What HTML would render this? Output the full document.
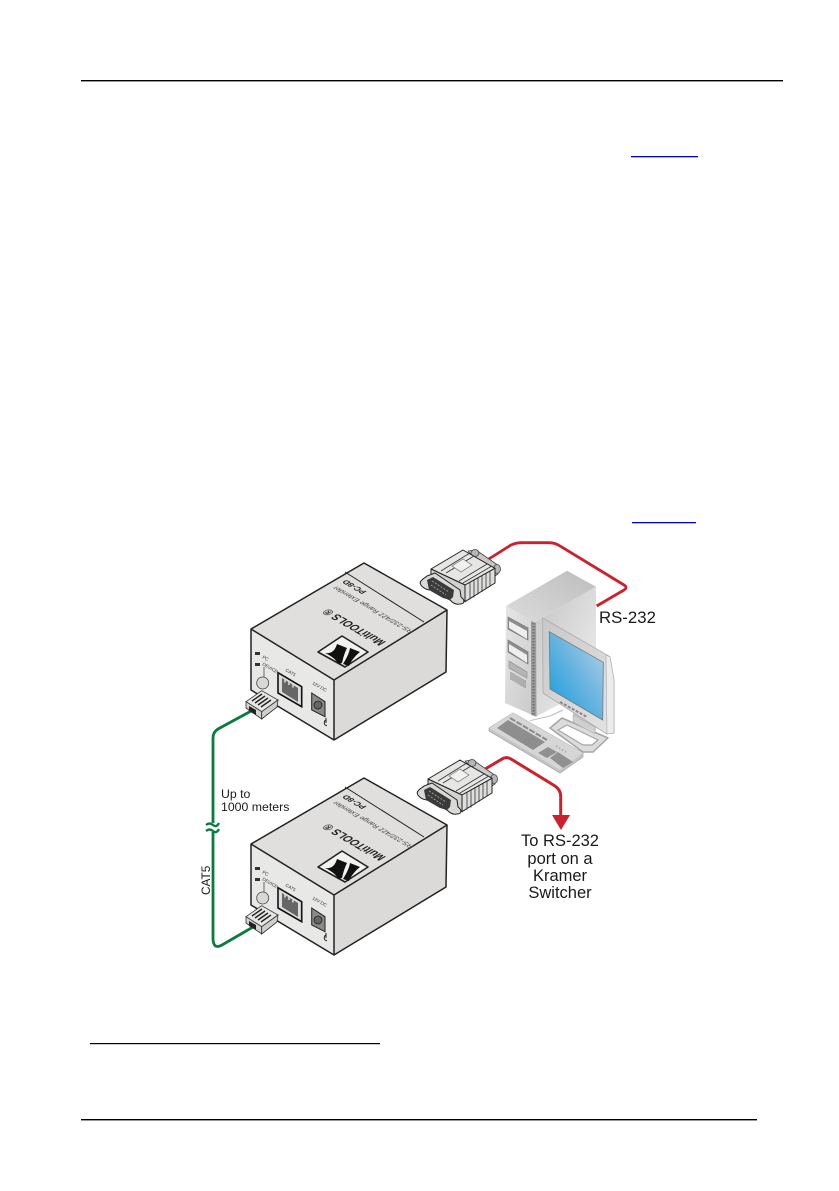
<!DOCTYPE html>
<html><head><meta charset="utf-8"><style>
html,body{margin:0;padding:0;background:#fff;width:839px;height:1191px;overflow:hidden}
svg{position:absolute;left:0;top:0}
text{font-family:"Liberation Sans",sans-serif;fill:#1a1a1a}
.d{filter:blur(.3px)}
</style></head><body>
<svg width="839" height="1191" viewBox="0 0 839 1191">
<defs>
<linearGradient id="scr" x1="0" y1="1" x2="1" y2="0"><stop offset="0" stop-color="#0d9bdc"/><stop offset=".55" stop-color="#6db5e0"/><stop offset="1" stop-color="#bdd5e8"/></linearGradient>
<linearGradient id="tw" x1="0" y1="0" x2="1" y2="1"><stop offset="0" stop-color="#c4c4c4"/><stop offset="1" stop-color="#f2f2f2"/></linearGradient>
<linearGradient id="tf" x1="0" y1="0" x2="1" y2="1"><stop offset="0" stop-color="#e6e6e6"/><stop offset="1" stop-color="#c8c8c8"/></linearGradient>
<linearGradient id="tt" x1="0" y1="1" x2="1" y2="0"><stop offset="0" stop-color="#dcdcdc"/><stop offset="1" stop-color="#bdbdbd"/></linearGradient>
<linearGradient id="bz" x1="0" y1="0" x2="1" y2="1"><stop offset="0" stop-color="#c8c8c8"/><stop offset="1" stop-color="#e4e4e4"/></linearGradient>
<g id="box">
<polygon points="251,629 364,563 447,610 334,680" fill="#e0dfdd"/>
<polygon points="251,629 334,680 334,740 251,690" fill="#e8e8e6"/>
<polygon points="334,680 447,610 446,672 334,740" fill="#dbdad8"/>
<path d="M251,629 L364,563 L447,610 L446,672 L334,740 L251,690 Z M251,629 L334,680 L447,610 M334,680 L334,740" fill="none" stroke="#222" stroke-width="1.5" stroke-linejoin="round"/>
<line x1="345" y1="572" x2="424" y2="622" stroke="#222" stroke-width="1"/>
<polygon points="318,652 342,636 368,652 345,667" fill="#f2f2f0" stroke="#222" stroke-width="1.6" stroke-linejoin="round"/>
<path d="M325,653 C331,654 335,651 337,644 L347,648 C344,654 343,659 342,663 L338,664 C336,659 331,656 325,653Z M350,648 L360,652 C355,656 351,661 349,666 L343,664 C346,659 349,654 350,648Z" fill="#111"/>
<line x1="264" y1="667" x2="264" y2="677" stroke="#333" stroke-width=".7"/>
<circle cx="262.7" cy="683" r="6" fill="#d8d8d6" stroke="#444" stroke-width=".8"/>
<path d="M255,652 h5 v3 h-5Z M255,663 h5 v3 h-5Z" fill="#333"/>
<polygon points="278,672.7 301.7,686.7 301.7,706.7 278,693" fill="#ddd" stroke="#111" stroke-width="1.6"/>
<polygon points="282,678 298,688 298,702 282,692" fill="#666"/>
<path d="M285,678.5v4M289,681v4M293,683.5v4" stroke="#ddd" stroke-width="1.5"/>
<polygon points="311.7,693 325,701.7 325,716.7 311.7,710" fill="#8a8a88" stroke="#222" stroke-width="1"/>
<circle cx="318" cy="705" r="4" fill="#666" stroke="#222" stroke-width=".8"/>
<path d="M326,720 a2,2.5 0 1 0 1,5.5 M326,723v-5" fill="none" stroke="#222" stroke-width="1"/>
</g>
<g id="plug">
<polygon points="246,701.7 261.7,690.7 278,700 261.7,711.7" fill="#e6e6e4" stroke="#333" stroke-width=".8"/>
<polygon points="246,701.7 261.7,711.7 261.7,719 246,708" fill="#d2d2d0" stroke="#333" stroke-width=".8"/>
<polygon points="261.7,711.7 278,700 277,707 261.7,719" fill="#cfcfcd" stroke="#333" stroke-width=".8"/>
<path d="M252,701 L262,694 M255,703 L265,696 M258,705 L268,698 M261,707 L271,700" stroke="#222" stroke-width="1.4"/>
<polygon points="249,706 256,710 256,715 249,711" fill="#222"/>
</g>
<g id="db">
<polygon points="468,551 476,550 499,566 498,574 492,578" fill="#c8c8c6" stroke="#444" stroke-width=".8" stroke-linejoin="round"/>
<ellipse cx="475" cy="553" rx="4" ry="3.5" fill="#b5b5b5" stroke="#444" stroke-width=".8"/>
<ellipse cx="497" cy="569" rx="3.5" ry="4.5" fill="#b5b5b5" stroke="#444" stroke-width=".8"/>
<polygon points="431,569 463,550 495,568.3 465,585" fill="#e6e6e4" stroke="#222" stroke-width="1" stroke-linejoin="round"/>
<polygon points="465,585 495,568.3 495,583 465,601.7" fill="#dededc" stroke="#222" stroke-width="1" stroke-linejoin="round"/>
<polygon points="431,569 465,585 465,601.7 458,594 431,578" fill="#d2d2d0" stroke="#222" stroke-width="1" stroke-linejoin="round"/>
<path d="M427,576 L435,573 L460,590 L461,597 C465,600 465,604 460,604 C455,605 452,602 450,600 L431,590 C424,590 418,584 421,581 C423,578 425,578 427,576Z" fill="#d9d9d7" stroke="#222" stroke-width="1" stroke-linejoin="round"/>
<polygon points="427,580 433,577 454,590 453,597 450,600 443,598 429,590" fill="#3a3a3a"/>
<path d="M432,581 L449,592 M431,585 L446,595" stroke="#999" stroke-width="1" stroke-dasharray="2 1.4"/>
<path d="M459,581 L487,564 M463,583 L491,566.500 M446,573 L474,556 M441,571 L469,553.500 M470,582.500v17 M474,580.500v17 M478,578v16.500 M482,576v16 M486,573.500v15.500 M490,571v14.500" stroke="#333" stroke-width=".8" fill="none"/>
<polygon points="452,566 463,559 472,565 461,572" fill="#f0f0ee" stroke="#666" stroke-width=".6"/>
</g>
</defs>

<!-- page rules -->
<rect x="81" y="80" width="702" height="1.4" fill="#000"/>
<rect x="631" y="156" width="67" height="1.3" fill="#00c"/>
<rect x="632" y="522" width="64" height="1.3" fill="#00c"/>
<rect x="90" y="1043" width="290" height="1.2" fill="#000"/>
<rect x="81" y="1119" width="676" height="1.4" fill="#000"/>

<g class="d">
<!-- red cables -->
<path d="M484,562 L511,545 Q516,542.7 522,542.7 L549,542.7 Q555,542.7 560,546 L624,585 Q628,587.5 624,590 L596.7,606" fill="none" stroke="#cd202c" stroke-width="2.8"/>
<path d="M480,772 L503,758.5 Q507,756.5 511,759 L555,786 Q560.7,790 560.7,796 L560.7,816" fill="none" stroke="#cd202c" stroke-width="3"/>
<polygon points="552,815 570,815 561,830" fill="#cd202c"/>

<!-- green cable -->
<path d="M253,710 L218,729 Q213,732 213,738 L213,823 M213,832 L213,938 Q213,950 222,945 L253,927" fill="none" stroke="#0b7a3f" stroke-width="2.8"/>
<path d="M206,825 q3.500,-3 7,0 t6,-2 M206,831 q3.500,-3 7,0 t6,-2" fill="none" stroke="#0b7a3f" stroke-width="2.300"/>

<!-- devices -->
<use href="#box"/>
<use href="#box" transform="translate(0,215)"/>
<use href="#plug"/>
<use href="#plug" transform="translate(0,215)"/>
<use href="#db"/>
<use href="#db" transform="translate(-3,210)"/>

<!-- device labels 1 -->
<g>
<text transform="matrix(-.866,-.5,.866,-.5,386.500,642)" font-size="12" font-weight="bold" textLength="67" lengthAdjust="spacingAndGlyphs" style="fill:#222">MultiTOOLS ®</text>
<text transform="matrix(-.866,-.5,.866,-.5,414,631)" font-size="7" textLength="90" lengthAdjust="spacingAndGlyphs" style="fill:#444">RS-232/422 Range Extender</text>
<text transform="matrix(-.866,-.5,.866,-.5,367,591.500)" font-size="8" font-weight="bold" style="fill:#222">PC-8D</text>
<text x="262" y="658" font-size="4.5" style="fill:#333" transform="rotate(30 262 658)">PC</text>
<text x="262" y="665" font-size="4.5" style="fill:#333" transform="rotate(30 262 665)">DEVICE</text>
<text x="285" y="671" font-size="4.5" style="fill:#333" transform="rotate(30 285 671)">CAT5</text>
<text x="312" y="684" font-size="4.5" style="fill:#333" transform="rotate(30 312 684)">12V DC</text>
</g>
<!-- device labels 2 -->
<g transform="translate(0,215)">
<text transform="matrix(-.866,-.5,.866,-.5,386.500,642)" font-size="12" font-weight="bold" textLength="67" lengthAdjust="spacingAndGlyphs" style="fill:#222">MultiTOOLS ®</text>
<text transform="matrix(-.866,-.5,.866,-.5,414,631)" font-size="7" textLength="90" lengthAdjust="spacingAndGlyphs" style="fill:#444">RS-232/422 Range Extender</text>
<text transform="matrix(-.866,-.5,.866,-.5,367,591.500)" font-size="8" font-weight="bold" style="fill:#222">PC-8D</text>
<text x="262" y="658" font-size="4.5" style="fill:#333" transform="rotate(30 262 658)">PC</text>
<text x="262" y="665" font-size="4.5" style="fill:#333" transform="rotate(30 262 665)">DEVICE</text>
<text x="285" y="671" font-size="4.5" style="fill:#333" transform="rotate(30 285 671)">CAT5</text>
<text x="312" y="684" font-size="4.5" style="fill:#333" transform="rotate(30 312 684)">12V DC</text>
</g>

<!-- tower -->
<polygon points="506,606 567,570.7 596,586.7 534,622.7" fill="url(#tt)"/>
<polygon points="534,622.7 596,586.7 596,660 561.7,703 536,716.7" fill="url(#tw)"/>
<polygon points="506,606 534,622.7 536,716.7 505,703" fill="url(#tf)"/>
<polygon points="531,621 536,623 536.5,716.5 531,715" fill="#9c9c9c"/>
<path d="M533.5,623 V716" stroke="#777" stroke-width="2.6" stroke-dasharray="1.5 1.5"/>
<polygon points="508,617 528,628 528,640 508,629" fill="#8c8c8c" stroke="#777" stroke-width=".7"/>
<polygon points="509,621 527,631 527,639 509,628" fill="#eee"/>
<polygon points="508,640 528,652 528,664 508,652" fill="#8c8c8c" stroke="#777" stroke-width=".7"/>
<polygon points="509,644 527,655 527,663 509,651" fill="#eee"/>
<polygon points="509,661 527,672 527,678 509,668" fill="#b5b5b5" stroke="#999" stroke-width=".8"/>
<path d="M511,672 v8 M513,673 v8 M515,674.2 v8 M517,675.400 v8 M519,676.600 v8 M521,677.800 v8 M523,679 v8 M525,680 v8" stroke="#888" stroke-width="1"/>

<!-- monitor -->
<path d="M530,720.7 L550,716 L563,710" fill="none" stroke="#bbb" stroke-width="1"/>
<polygon points="573,700 596,714 596,730 573,718" fill="#c8c8c8"/>
<path d="M550,728 L562,718 L608,738 L593,752 L583,752 Z" fill="#dcdcdc" stroke="#a5a5a5" stroke-width="1.5" stroke-linejoin="round"/>
<path d="M558,730 L567,725 L598,740 L592,745 L583,745 Z" fill="#fff" stroke="#a5a5a5" stroke-width="1.200" stroke-linejoin="round"/>
<polygon points="573,715 595,727 595,734 573,722" fill="#d0d0d0" stroke="#aaa" stroke-width=".5"/>
<polygon points="542.7,618 610,656.700 614,680 614,733 606.700,734 543,693" fill="url(#bz)" stroke="#aaa" stroke-width=".8"/>
<polygon points="606,655 610,656.700 614,680 614,733 607,734" fill="#ececec" stroke="#aaa" stroke-width=".6"/>
<polygon points="549.3,631.7 603.300,662.300 602.700,720 550,689" fill="url(#scr)" stroke="#777" stroke-width=".8"/>
<path d="M560,702 L587,717" stroke="#888" stroke-width="2" stroke-dasharray="3 1.5"/>

<!-- keyboard -->
<polygon points="489,728 513,713 583,753 583,757 560,773 489,731" fill="#c4c4c4" stroke="#aaa" stroke-width=".8" stroke-linejoin="round"/>
<polygon points="489,728 513,713 583,753 560,770" fill="#d6d6d6"/>
<polygon points="497,728 508,720 545,742 533,750" fill="#8e8e8e"/>
<polygon points="538,753 548,747 557,752 547,758" fill="#909090"/>
<polygon points="550,758 558,752 573,762 563,768" fill="#909090"/>
<path d="M510,718 L547,740" stroke="#8a8a8a" stroke-width="2" stroke-dasharray="6 1.5"/>
<path d="M556,746 L566,752" stroke="#b0b0b0" stroke-width="2" stroke-dasharray="1.500 2"/>

<!-- labels -->
<text x="599" y="623" font-size="16.8">RS-232</text>
<text x="221" y="798" font-size="12.3">Up to</text>
<text x="221" y="811" font-size="12.3">1000 meters</text>
<text transform="translate(210,895) rotate(-90)" font-size="11.8">CAT5</text>
<g font-size="16.5" text-anchor="middle">
<text x="560" y="846">To RS-232</text>
<text x="560" y="864">port on a</text>
<text x="560" y="881">Kramer</text>
<text x="560" y="898">Switcher</text>
</g>
</g>
</svg>
</body></html>
